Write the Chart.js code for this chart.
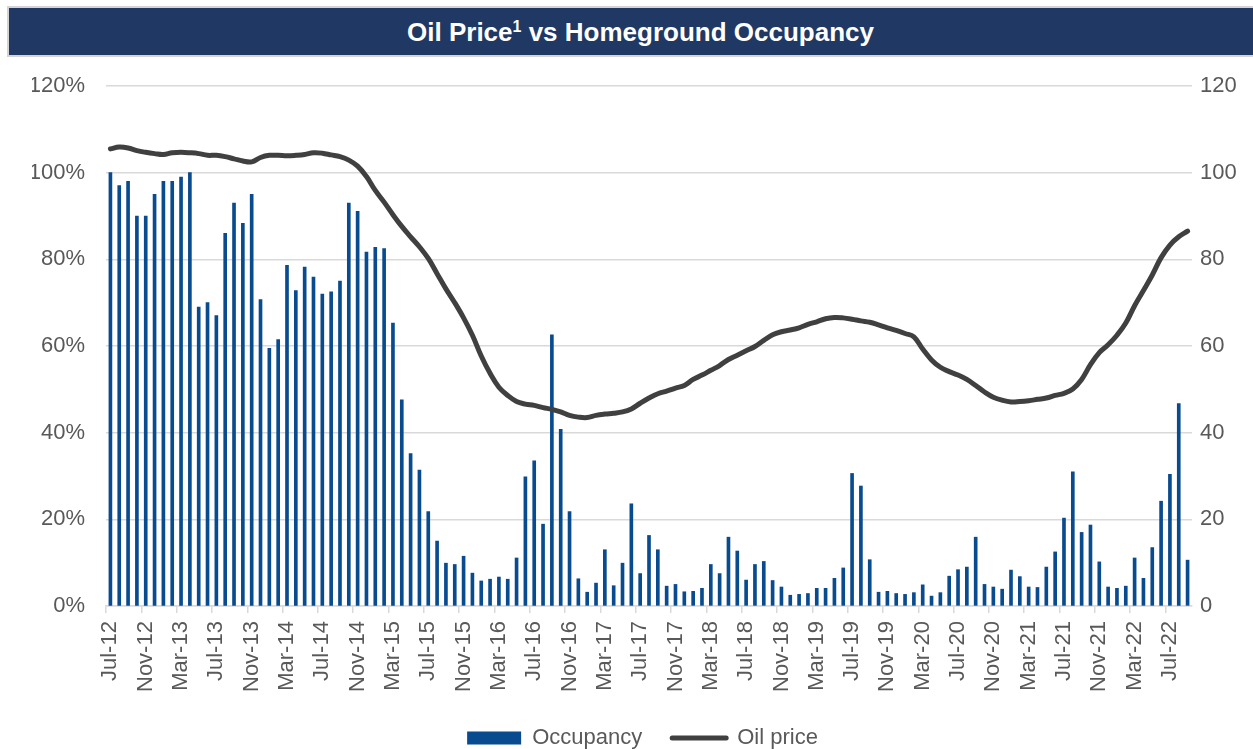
<!DOCTYPE html>
<html>
<head>
<meta charset="utf-8">
<script src="https://cdn.jsdelivr.net/npm/chart.js@4"></script>
<style>
  html, body { margin: 0; padding: 0; background: #fff; overflow: hidden; }
  #wrap { position: relative; width: 1253px; height: 749px; }
  #title {
    position: absolute; left: 7px; top: 6px; width: 1250px; height: 51px;
    box-sizing: border-box; padding-left: 17px;
    background: #203864; border: 2px solid #d4d4d4;
    color: #fff; font: bold 26px "Liberation Sans", Arial, sans-serif;
    text-align: center; line-height: 49px;
  }
  #title sup { font-size: 16px; line-height: 0; vertical-align: 9px; }
  #chart { position: absolute; left: 0; top: 0; }
</style>
</head>
<body>
<div id="wrap">
  <canvas id="chart" width="1253" height="749"></canvas>
  <div id="title">Oil Price<sup>1</sup> vs Homeground Occupancy</div>
</div>
<script>
// months Jul-12 .. Sep-22
const monthNames = ['Jan', 'Feb', 'Mar', 'Apr', 'May', 'Jun', 'Jul', 'Aug', 'Sep', 'Oct', 'Nov', 'Dec'];
const firstMonth = { year: 2012, month: 6 };
const monthCount = 123;

const labels = [];
for (let i = 0; i < monthCount; i++) {
    const m = firstMonth.month + i;
    const y = firstMonth.year + Math.floor(m / 12);
    labels.push(monthNames[m % 12] + '-' + String(y).slice(2));
}

// Homeground occupancy, %
const occupancy = [
    100, 97, 98, 90, 90, 95, 98, 98, 99, 100,
    69, 70, 67, 86, 93, 88.3, 95, 70.7, 59.5, 61.5,
    78.6, 72.8, 78.2, 75.9, 72, 72.5, 75, 93, 91.1, 81.7,
    82.8, 82.5, 65.3, 47.6, 35.2, 31.4, 21.8, 15, 9.9, 9.6,
    11.5, 7.6, 5.8, 6.2, 6.7, 6.2, 11.1, 29.8, 33.5, 18.9,
    62.6, 40.8, 21.8, 6.3, 3.2, 5.3, 13, 4.7, 9.9, 23.6,
    7.5, 16.3, 13, 4.6, 5, 3.3, 3.4, 4.1, 9.6, 7.5,
    15.9, 12.7, 6, 9.6, 10.3, 5.9, 4.4, 2.5, 2.7, 2.9,
    4.1, 4.1, 6.4, 8.8, 30.6, 27.7, 10.7, 3.2, 3.4, 2.9,
    2.7, 3.1, 4.9, 2.3, 3.1, 6.9, 8.4, 9, 15.9, 5,
    4.4, 3.9, 8.3, 6.8, 4.4, 4.3, 9, 12.5, 20.3, 31,
    17, 18.7, 10.2, 4.4, 4.1, 4.6, 11.1, 6.4, 13.5, 24.2,
    30.4, 46.7, 10.6
];

// Oil price (right axis)
const oilPrice = [
    105.5, 105.9, 105.7, 105.1, 104.7, 104.4, 104.2, 104.6, 104.7, 104.6,
    104.4, 104.0, 104.0, 103.7, 103.2, 102.7, 102.5, 103.5, 104.0, 104.0,
    103.9, 104.0, 104.2, 104.6, 104.5, 104.1, 103.7, 102.9, 101.5, 99.1,
    95.9, 93.2, 90.3, 87.6, 85.2, 82.9, 80.2, 76.7, 73.2, 70.0,
    66.5, 62.5, 57.7, 53.7, 50.5, 48.6, 47.2, 46.6, 46.3, 45.8,
    45.4, 44.8, 44.0, 43.6, 43.5, 44.0, 44.3, 44.5, 44.8, 45.5,
    46.8, 48.0, 49.0, 49.6, 50.3, 50.9, 52.3, 53.3, 54.4, 55.5,
    56.9, 57.9, 58.9, 59.9, 61.3, 62.6, 63.3, 63.7, 64.2, 65.0,
    65.6, 66.3, 66.6, 66.5, 66.2, 65.8, 65.5, 64.9, 64.2, 63.6,
    62.9, 62.1, 59.3, 56.8, 55.1, 54.1, 53.3, 52.3, 50.9, 49.4,
    48.2, 47.5, 47.1, 47.2, 47.4, 47.7, 48.0, 48.6, 49.1, 50.1,
    52.3, 55.7, 58.5, 60.3, 62.5, 65.3, 69.3, 72.8, 76.4, 80.4,
    83.3, 85.2, 86.5
];

const leftTicks = [0, 20, 40, 60, 80, 100, 120];
const labelEvery = 4;

const barColor = '#084b8e';
const lineColor = '#404040';
const gridColor = '#d9d9d9';
const textColor = '#595959';

Chart.defaults.font.family = '"Liberation Sans", Arial, sans-serif';
Chart.defaults.font.size = 22;
Chart.defaults.color = textColor;

const ctx = document.getElementById('chart').getContext('2d');
new Chart(ctx, {
    type: 'bar',
    data: {
        labels: labels,
        datasets: [
            {
                type: 'bar',
                label: 'Occupancy',
                data: occupancy,
                backgroundColor: barColor,
                barThickness: 3,
                yAxisID: 'y',
                order: 2
            },
            {
                type: 'line',
                label: 'Oil price',
                data: oilPrice,
                borderColor: lineColor,
                backgroundColor: lineColor,
                borderWidth: 5,
                borderCapStyle: 'round',
                pointRadius: 0,
                tension: 0.4,
                yAxisID: 'y1',
                order: 1
            }
        ]
    },
    options: {
        responsive: false,
        animation: false,
        layout: { padding: { top: 86, left: 32, right: 0, bottom: -10 } },
        plugins: {
            legend: {
                position: 'bottom',
                labels: {
                    usePointStyle: true,
                    pointStyleWidth: 54,
                    boxHeight: 13,
                    padding: 30,
                    color: textColor,
                    sort: (a, b) => a.datasetIndex - b.datasetIndex,
                    generateLabels: chart => {
                        const items = Chart.defaults.plugins.legend.labels.generateLabels(chart);
                        items.forEach(item => {
                            if (item.datasetIndex === 0) {
                                item.pointStyle = 'rect';
                                item.lineWidth = 0;
                            } else {
                                item.pointStyle = 'line';
                                item.lineWidth = 5;
                                item.lineCap = 'round';
                                item.strokeStyle = lineColor;
                            }
                        });
                        return items;
                    }
                }
            },
            tooltip: { enabled: false }
        },
        scales: {
            x: {
                offset: true,
                grid: {
                    offset: true,
                    drawOnChartArea: false,
                    drawTicks: true,
                    tickLength: 7,
                    lineWidth: 1.5,
                    color: c => (c.index % labelEvery === 0 ? gridColor : 'rgba(0,0,0,0)')
                },
                border: { display: true, color: gridColor, width: 1.5 },
                ticks: {
                    autoSkip: false,
                    minRotation: 90,
                    maxRotation: 90,
                    padding: 8,
                    callback: (v, i) => (i % labelEvery === 0 ? labels[i] : '')
                },
                afterFit: s => { s.height -= 3; }
            },
            y: {
                position: 'left',
                min: 0,
                max: 120,
                afterBuildTicks: s => { s.ticks = leftTicks.map(v => ({ value: v })); },
                grid: { color: gridColor, lineWidth: 1.5, drawTicks: false },
                border: { display: false },
                ticks: { padding: 21, callback: v => v + '%' },
                afterFit: s => { s.width = 74; }
            },
            y1: {
                position: 'right',
                min: 0,
                max: 120,
                afterBuildTicks: s => { s.ticks = leftTicks.map(v => ({ value: v })); },
                grid: { display: false, drawTicks: false },
                border: { display: false },
                ticks: { padding: 8 },
                afterFit: s => { s.width = 61; }
            }
        }
    }
});
</script>
</body>
</html>
